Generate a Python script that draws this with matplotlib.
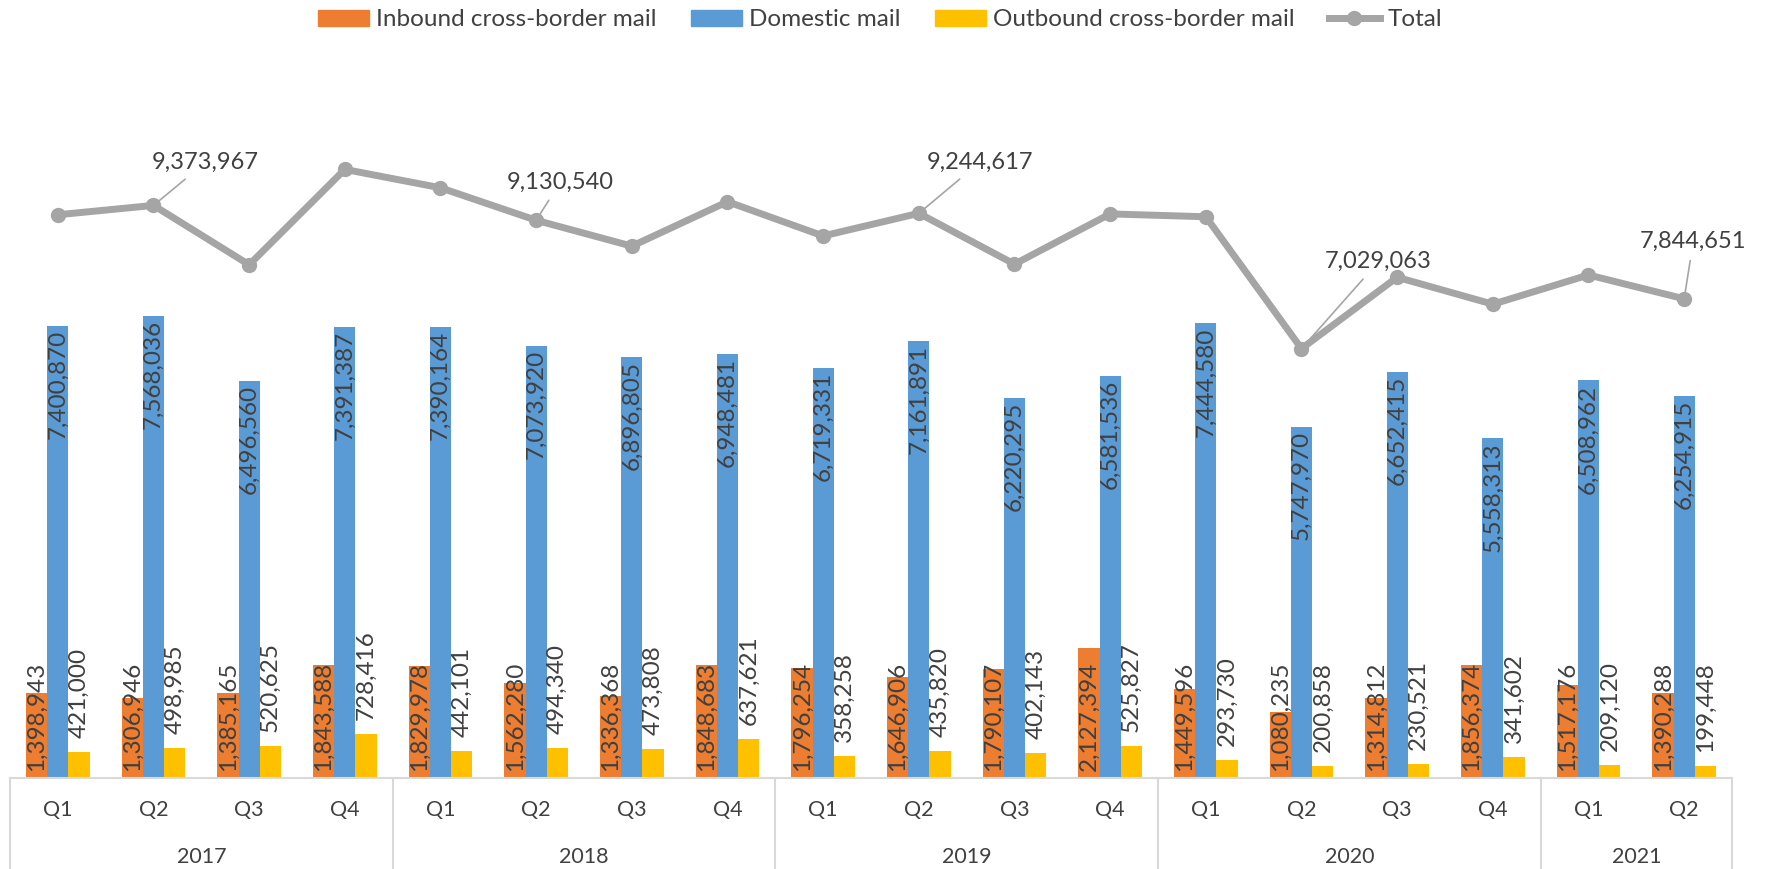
import numpy as np
import matplotlib.pyplot as plt
from matplotlib.patches import Patch
from matplotlib.lines import Line2D

plt.rcParams['font.family'] = ['Lato', 'DejaVu Sans']

# ------------------------------------------------------------
# Data
# ------------------------------------------------------------
years = ["2017", "2018", "2019", "2020", "2021"]
quarters = ["Q1", "Q2", "Q3", "Q4",
            "Q1", "Q2", "Q3", "Q4",
            "Q1", "Q2", "Q3", "Q4",
            "Q1", "Q2", "Q3", "Q4",
            "Q1", "Q2"]
quarters_per_year = [4, 4, 4, 4, 2]

inbound = [1398943, 1306946, 1385165, 1843588, 1829978, 1562280, 1336368, 1848683,
           1796254, 1646906, 1790107, 2127394, 1449596, 1080235, 1314812, 1856374,
           1517176, 1390288]
domestic = [7400870, 7568036, 6496560, 7391387, 7390164, 7073920, 6896805, 6948481,
            6719331, 7161891, 6220295, 6581536, 7444580, 5747970, 6652415, 5558313,
            6508962, 6254915]
outbound = [421000, 498985, 520625, 728416, 442101, 494340, 473808, 637621,
            358258, 435820, 402143, 525827, 293730, 200858, 230521, 341602,
            209120, 199448]
total = [a + b + c for a, b, c in zip(inbound, domestic, outbound)]

# total points that carry a label, with label offset in pixels
total_labelled = [1, 5, 9, 13, 17]
total_offsets = [(52, 43), (24, 38), (61, 51), (77, 87), (9, 57)]

# ------------------------------------------------------------
# Style
# ------------------------------------------------------------
C_IN = "#ED7D31"
C_DOM = "#5B9BD5"
C_OUT = "#FFC000"
C_TOT = "#A5A5A5"
C_TXT = "#404040"
C_AX = "#D9D9D9"

W, H = 1774, 869
fig = plt.figure(figsize=(W / 100, H / 100), dpi=100)
ax = fig.add_axes([10 / W, (H - 778) / H, (1732 - 10) / W, (778 - 45) / H])

x = np.arange(len(quarters))
bw = 0.222

b_in = ax.bar(x - bw, inbound, bw, color=C_IN)
b_dom = ax.bar(x, domestic, bw, color=C_DOM)
b_out = ax.bar(x + bw, outbound, bw, color=C_OUT)
ax.plot(x, total, color=C_TOT, lw=5, marker="o", ms=10, zorder=3,
        solid_capstyle="round")

ax.set_xlim(-0.5, len(quarters) - 0.5)
ax.set_ylim(0, 12000000)

# --- bar labels ---
lab_fs = 17.5
# inbound: inside base
for bar, v in zip(b_in, inbound):
    ax.annotate(f"{v:,}", (bar.get_x() + bar.get_width() / 2, 0),
                xytext=(0, 7), textcoords="offset pixels",
                rotation=90, ha="center", va="bottom",
                fontsize=lab_fs, color=C_TXT)
# domestic: inside end
for bar, v in zip(b_dom, domestic):
    ax.annotate(f"{v:,}", (bar.get_x() + bar.get_width() / 2, v),
                xytext=(0, -4), textcoords="offset pixels",
                rotation=90, ha="center", va="top",
                fontsize=lab_fs, color=C_TXT)
# outbound: outside end
for bar, v in zip(b_out, outbound):
    ax.annotate(f"{v:,}", (bar.get_x() + bar.get_width() / 2, v),
                xytext=(0, 14), textcoords="offset pixels",
                rotation=90, ha="center", va="bottom",
                fontsize=lab_fs, color=C_TXT)

# --- total labels with leader lines ---
for i, (dx, dy) in zip(total_labelled, total_offsets):
    ax.annotate(f"{total[i]:,}", (x[i], total[i]),
                xytext=(dx, dy), textcoords="offset pixels",
                ha="center", va="center", fontsize=17, color=C_TXT,
                arrowprops=dict(arrowstyle="-", color=C_TOT, lw=1.2,
                                shrinkA=4, shrinkB=5))

# --- multi-level category axis ---
ax.set_yticks([])
ax.set_xticks([])
for s in ["left", "right", "top"]:
    ax.spines[s].set_visible(False)
ax.spines["bottom"].set_color(C_AX)
ax.spines["bottom"].set_linewidth(1.5)

trans = ax.get_xaxis_transform()
ax_h = 778 - 45
y_q = -32 / ax_h
y_yr = -79 / ax_h
y_bot = -(H - 778) / ax_h

for xi, q in zip(x, quarters):
    ax.text(xi, y_q, q, transform=trans, ha="center", va="center",
            fontsize=15.5, color=C_TXT)

start = 0
edges = [-0.5]
for yr, n in zip(years, quarters_per_year):
    ax.text(start + (n - 1) / 2, y_yr, yr, transform=trans, ha="center",
            va="center", fontsize=15.5, color=C_TXT)
    start += n
    edges.append(start - 0.5)
for e in edges:
    ax.add_line(Line2D([e, e], [0, y_bot], transform=trans, color=C_AX,
                       lw=1.5, clip_on=False))

# --- legend ---
handles = [Patch(color=C_IN), Patch(color=C_DOM), Patch(color=C_OUT),
           Line2D([], [], color=C_TOT, lw=5, marker="o", ms=10)]
labels = ["Inbound cross-border mail", "Domestic mail",
          "Outbound cross-border mail", "Total"]
fig.legend(handles, labels, loc="center", bbox_to_anchor=(880 / W, 1 - 20 / H),
           ncol=4, frameon=False, fontsize=17.5, handlelength=2.1,
           handleheight=0.65, handletextpad=0.3, columnspacing=1.4,
           labelcolor=C_TXT)

fig.savefig("out.png", dpi=100)
